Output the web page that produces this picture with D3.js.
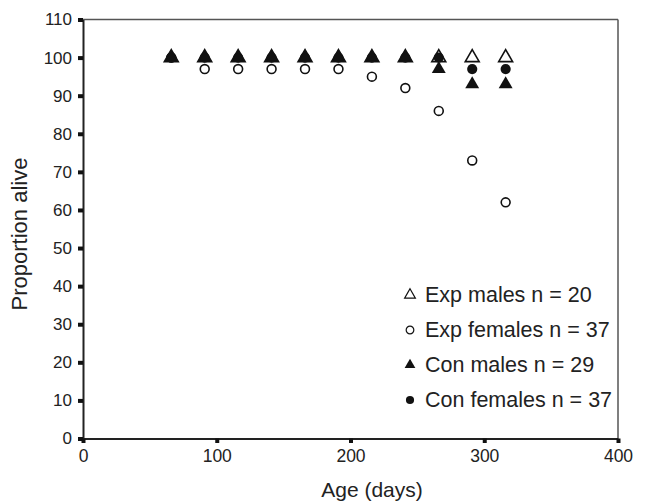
<!DOCTYPE html>
<html lang="en">
<head>
<meta charset="UTF-8">
<title>Proportion alive</title>
<script src="https://cdnjs.cloudflare.com/ajax/libs/d3/7.8.5/d3.min.js"></script>
<style>
  body { margin: 0; background: #fff; }
  svg { font-family: "Liberation Sans", Arial, sans-serif; }
</style>
</head>
<body>
<script>
// data
var days = [66, 91, 116, 141, 166, 191, 216, 241, 266, 291, 316];
var expMales   = [100, 100, 100, 100, 100, 100, 100, 100, 100, 100, 100];
var expFemales = [100, 97, 97, 97, 97, 97, 95, 92, 86, 73, 62];
var conMales   = [100, 100, 100, 100, 100, 100, 100, 100, 97, 93, 93];
var conFemales = [100, 100, 100, 100, 100, 100, 100, 100, 100, 97, 97];

var xTicks = [0, 100, 200, 300, 400];
var yTicks = [0, 10, 20, 30, 40, 50, 60, 70, 80, 90, 100, 110];

var legendLabels = ["Exp males n = 20", "Exp females n = 37", "Con males n = 29", "Con females n = 37"];

var width = 645, height = 503;
var plotLeft = 83, plotRight = 618, plotTop = 19.5, plotBottom = 438.5;

var svg = d3.select("body").append("svg")
  .attr("width", width)
  .attr("height", height);

var x = d3.scaleLinear().domain([0, 400]).range([plotLeft, plotRight]);
var y = d3.scaleLinear().domain([0, 110]).range([plotBottom, plotTop]);

// frame on top and right
svg.append("line").attr("x1", plotLeft).attr("x2", plotRight).attr("y1", plotTop).attr("y2", plotTop)
  .attr("stroke", "#555").attr("stroke-width", 1.5);
svg.append("line").attr("x1", plotRight).attr("x2", plotRight).attr("y1", plotTop).attr("y2", plotBottom)
  .attr("stroke", "#555").attr("stroke-width", 1.5);

// y axis
var gy = svg.append("g")
  .attr("transform", "translate(" + plotLeft + ",0)")
  .call(d3.axisLeft(y).tickValues(yTicks).tickSize(5).tickSizeOuter(0).tickPadding(6));
gy.select(".domain").attr("stroke", "#222").attr("stroke-width", 2);
gy.selectAll(".tick line").attr("stroke", "#111").attr("stroke-width", 4);
gy.selectAll(".tick text").attr("font-size", 17).attr("fill", "#222")
  .attr("font-family", "Liberation Sans, Arial, sans-serif");

// x axis
var gx = svg.append("g")
  .attr("transform", "translate(0," + plotBottom + ")")
  .call(d3.axisBottom(x).tickValues(xTicks).tickSize(4.5).tickSizeOuter(0).tickPadding(7));
gx.select(".domain").attr("stroke", "#222").attr("stroke-width", 2);
gx.selectAll(".tick line").attr("stroke", "#111").attr("stroke-width", 4);
gx.selectAll(".tick text").attr("font-size", 17.5).attr("fill", "#222")
  .attr("font-family", "Liberation Sans, Arial, sans-serif");

// axis titles
svg.append("text")
  .attr("x", 372).attr("y", 497)
  .attr("text-anchor", "middle")
  .attr("font-size", 21).attr("fill", "#222")
  .text("Age (days)");

svg.append("text")
  .attr("transform", "translate(27,234) rotate(-90)")
  .attr("text-anchor", "middle")
  .attr("font-size", 22).attr("fill", "#222")
  .text("Proportion alive");

// markers
var tri = d3.symbol().type(d3.symbolTriangle).size(84);
var openCirc = d3.symbol().type(d3.symbolCircle).size(62);
var dot = d3.symbol().type(d3.symbolCircle).size(82);

var series = [
  { name: "expFemales", values: expFemales, sym: openCirc, fill: "#fff", stroke: "#111" },
  { name: "conFemales", values: conFemales, sym: dot, fill: "#111", stroke: "none" },
  { name: "conMales",   values: conMales,   sym: tri,  fill: "#111", stroke: "none" },
  { name: "expMales",   values: expMales,   sym: tri,  fill: "none", stroke: "#111" }
];

series.forEach(function (s) {
  svg.append("g").attr("class", s.name)
    .selectAll("path")
    .data(s.values)
    .enter()
    .append("path")
    .attr("d", s.sym)
    .attr("transform", function (d, i) {
      return "translate(" + x(days[i]) + "," + y(d) + ")";
    })
    .attr("fill", s.fill)
    .attr("stroke", s.stroke)
    .attr("stroke-width", 1.6);
});

// legend
var legendSyms = [
  { sym: d3.symbol().type(d3.symbolTriangle).size(50), fill: "none", stroke: "#111" },
  { sym: d3.symbol().type(d3.symbolCircle).size(46), fill: "#fff", stroke: "#111" },
  { sym: d3.symbol().type(d3.symbolTriangle).size(50), fill: "#111", stroke: "none" },
  { sym: d3.symbol().type(d3.symbolCircle).size(52), fill: "#111", stroke: "none" }
];

var legend = svg.append("g").selectAll("g")
  .data(legendLabels)
  .enter()
  .append("g")
  .attr("transform", function (d, i) { return "translate(0," + (302 + i * 35) + ")"; });

legend.append("path")
  .attr("d", function (d, i) { return legendSyms[i].sym(); })
  .attr("transform", "translate(410,-7)")
  .attr("fill", function (d, i) { return legendSyms[i].fill; })
  .attr("stroke", function (d, i) { return legendSyms[i].stroke; })
  .attr("stroke-width", 1.2);

legend.append("text")
  .attr("x", 425)
  .attr("font-size", 21.5)
  .attr("fill", "#222")
  .text(function (d) { return d; });
</script>
</body>
</html>
